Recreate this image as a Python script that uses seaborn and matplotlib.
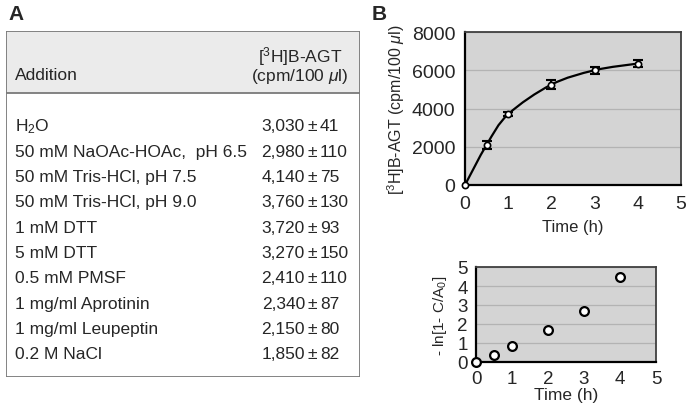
import numpy as np
import pandas as pd
import matplotlib.pyplot as plt
import seaborn as sns
from matplotlib.patches import Rectangle, PathPatch
from matplotlib.path import Path

# Table data (panel A)
additions = ['H$_2$O', '50 mM NaOAc-HOAc,  pH 6.5', '50 mM Tris-HCl, pH 7.5',
             '50 mM Tris-HCl, pH 9.0', '1 mM DTT', '5 mM DTT', '0.5 mM PMSF',
             '1 mg/ml Aprotinin', '1 mg/ml Leupeptin', '0.2 M NaCl']
binding = [3030, 2980, 4140, 3760, 3720, 3270, 2410, 2340, 2150, 1850]
binding_err = [41, 110, 75, 130, 93, 150, 110, 87, 80, 82]

# Time course (panel B)
time_h = [0, 0.5, 1, 2, 3, 4]
cpm = [0, 2100, 3700, 5250, 6000, 6350]
cpm_err = [0, 200, 100, 220, 170, 200]
ln_term = [0, 0.38, 0.85, 1.7, 2.7, 4.45]

sns.set_theme(style='white')
plt.rcParams['font.family'] = ['Liberation Sans', 'DejaVu Sans']
plt.rcParams['mathtext.fontset'] = 'custom'
plt.rcParams['mathtext.rm'] = 'Liberation Sans'
plt.rcParams['mathtext.it'] = 'Liberation Sans:italic'

fig = plt.figure(figsize=(6.9, 4.14), dpi=100)
W, H = 690, 414


def px_axes(l, t, r, b):
    return fig.add_axes([l / W, 1 - b / H, (r - l) / W, (b - t) / H])


# ---- Panel A: table ----
ta = px_axes(6, 32, 360, 378)
ta.set_xlim(6, 360)
ta.set_ylim(378, 32)
ta.axis('off')
ta.add_patch(Rectangle((6, 32), 354, 62, facecolor='#ebebeb', edgecolor='none'))
ta.add_patch(Rectangle((6, 32), 354, 346, facecolor='none', edgecolor='#7a7a7a', lw=1.3))
ta.plot([6, 360], [94, 94], color='#7a7a7a', lw=1.3)
fs = 12.5
ta.text(15, 76, 'Addition', fontsize=fs, va='center')
ta.text(300, 57, '[$^3$H]B-AGT', fontsize=fs, va='center', ha='center')
ta.text(300, 77, '(cpm/100 $\\mu$l)', fontsize=fs, va='center', ha='center')
for i, (name, v, e) in enumerate(zip(additions, binding, binding_err)):
    y = 127 + i * 25.3
    ta.text(15, y, name, fontsize=fs, va='center')
    ta.text(305, y, f'{v:,}', fontsize=fs, va='center', ha='right')
    ta.text(308, y, '\u00b1', fontsize=fs, va='center', ha='left')
    ta.text(320, y, f'{e}', fontsize=fs, va='center', ha='left')

fig.text(8 / W, 1 - 14 / H, 'A', fontsize=15, fontweight='bold', va='center')
fig.text(372 / W, 1 - 14 / H, 'B', fontsize=15, fontweight='bold', va='center')


def style_axes(ax):
    ax.set_facecolor('#d4d4d4')
    ax.yaxis.grid(True, color='#b3b3b3', lw=0.9)
    ax.set_axisbelow(True)
    for s in ['left', 'bottom']:
        ax.spines[s].set_color('black')
        ax.spines[s].set_linewidth(1.6)
    for s in ['top', 'right']:
        ax.spines[s].set_visible(True)
        ax.spines[s].set_color('#404040')
        ax.spines[s].set_linewidth(1.3)
    ax.tick_params(direction='out', length=4, width=0.8, color='#888888', pad=3)


def smooth_path(xs, ys):
    pts = np.column_stack([xs, ys]).astype(float)
    n = len(pts)
    verts = [pts[0]]
    codes = [Path.MOVETO]
    for i in range(n - 1):
        p0 = pts[max(i - 1, 0)]
        p1 = pts[i]
        p2 = pts[i + 1]
        p3 = pts[min(i + 2, n - 1)]
        verts += [p1 + (p2 - p0) / 6, p2 - (p3 - p1) / 6, p2]
        codes += [Path.CURVE4] * 3
    return Path(verts, codes)


# ---- Panel B upper: time course ----
df = pd.DataFrame({'time': time_h, 'cpm': cpm, 'err': cpm_err, 'ln': ln_term})
ax1 = px_axes(465, 33, 681, 186)
style_axes(ax1)
ax1.add_patch(PathPatch(smooth_path(df['time'], df['cpm']), facecolor='none',
                        edgecolor='black', lw=1.6, zorder=3))
ax1.errorbar(df['time'][1:], df['cpm'][1:], yerr=df['err'][1:], fmt='none',
             ecolor='black', elinewidth=1.5, capsize=3.8, capthick=1.5, zorder=4)
sns.scatterplot(data=df, x='time', y='cpm', ax=ax1, s=20, facecolor='white',
                edgecolor='black', linewidth=1.2, zorder=5, clip_on=False)
ax1.set_xlim(0, 5)
ax1.set_ylim(0, 8000)
ax1.set_xticks(range(6))
ax1.set_yticks(range(0, 8001, 2000))
ax1.tick_params(labelsize=14)
ax1.set_xlabel('Time (h)', fontsize=12, labelpad=5)
ax1.set_ylabel('[$^3$H]B-AGT (cpm/100 $\\mu$l)', fontsize=11.5, labelpad=3)

# ---- Panel B lower: linearised ----
ax2 = px_axes(476, 268, 656, 363)
style_axes(ax2)
sns.scatterplot(data=df, x='time', y='ln', ax=ax2, s=40, facecolor='white',
                edgecolor='black', linewidth=1.6, zorder=5, clip_on=False)
ax2.set_xlim(0, 5)
ax2.set_ylim(0, 5)
ax2.set_xticks(range(6))
ax2.set_yticks(range(6))
ax2.tick_params(labelsize=13.5, pad=2)
ax2.set_xlabel('Time (h)', fontsize=12.5, labelpad=0)
ax2.set_ylabel('- ln[1- C/A$_0$]', fontsize=11, labelpad=6)

fig.savefig('out.png', dpi=100)
